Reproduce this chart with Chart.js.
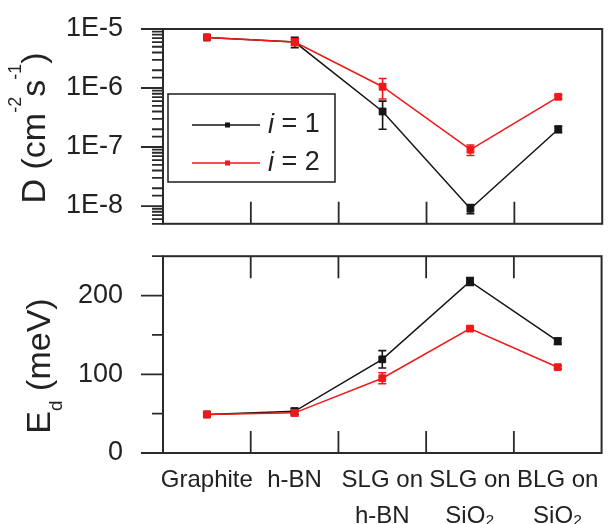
<!DOCTYPE html>
<html>
<head>
<meta charset="utf-8">
<script src="https://cdn.jsdelivr.net/npm/chart.js@4.4.1/dist/chart.umd.min.js"></script>
<style>
  html, body { margin: 0; padding: 0; background: #fff; overflow: hidden; }
  #wrap { position: relative; width: 608px; height: 524px; }
  canvas { position: absolute; left: 0; }
  .ttl { position: absolute; white-space: nowrap; color: #222; line-height: 1;
         font: 34px "Liberation Sans", Arial, sans-serif;
         transform: translate(-50%, -50%) rotate(-90deg); }
  .ttl .sup { font-size: 18px; position: relative; top: -24px; }
  .ttl .sub { font-size: 19px; position: relative; top: 12px; }
</style>
</head>
<body>
<div id="wrap">
  <canvas id="cD" width="608" height="240" style="top:0"></canvas>
  <canvas id="cE" width="608" height="284" style="top:240px"></canvas>
  <div class="ttl" style="left:33px;top:128px">D (cm<span class="sup">-2</span>s<span class="sup">-1</span>)</div>
  <div class="ttl" style="left:38px;top:366px">E<span class="sub">d</span> (meV)</div>
</div>
<script>
// ---- data ----
var categories = ['Graphite', 'h-BN', ['SLG on', 'h-BN'], ['SLG on', 'SiO₂'], ['BLG on', 'SiO₂']];
var seriesLabels = ['i = 1', 'i = 2'];

// diffusion coefficient D (cm^2/s), log axis
var d1    = [7.2e-6, 6.0e-6, 4.0e-7, 9.0e-9, 2.0e-7];
var d1Err = [0,      1.2e-6, 2.0e-7, 1.6e-9, 0.25e-7];
var d2    = [7.2e-6, 6.0e-6, 1.05e-6, 9.0e-8, 7.1e-7];
var d2Err = [0,      0.8e-6, 0.4e-6,  1.8e-8, 0.6e-7];

// activation energy E_d (meV)
var e1    = [49, 53, 119, 218, 142];
var e1Err = [0,  4,  11,  5,   4];
var e2    = [49, 51, 95,  158, 109];
var e2Err = [0,  4,  7,   3,   2];

var dMin = 5e-9, dMax = 1e-5;
var eMin = 0, eMax = 250, eStep = 50, eMajorStep = 100;

var INK = '#2a2a2a', BLACK = '#151515', RED = '#f01818';
var FONT = '"Liberation Sans", Arial, sans-serif';

Chart.defaults.font.family = FONT;
Chart.defaults.color = '#222';
Chart.defaults.animation = false;

function isMajorLog(v) { var l = Math.log10(v); return Math.abs(l - Math.round(l)) < 1e-6; }

// frame box + outward y ticks + inward category ticks
var framePlugin = {
  id: 'frame',
  afterDraw: function (chart, args, o) {
    var ctx = chart.ctx, a = chart.chartArea, y = chart.scales.y, x = chart.scales.x;
    ctx.save();
    ctx.strokeStyle = INK;
    ctx.lineWidth = 2;
    ctx.strokeRect(a.left, a.top, a.right - a.left, a.bottom - a.top);
    ctx.lineWidth = 1.8;
    ctx.beginPath();
    y.ticks.forEach(function (t) {
      var py = y.getPixelForValue(t.value);
      var len = o.major(t.value) ? 22 : 11;
      ctx.moveTo(a.left - len, py); ctx.lineTo(a.left, py);
    });
    var n = chart.data.labels.length;
    for (var i = 0; i < n - 1; i++) {
      var px = (x.getPixelForValue(i) + x.getPixelForValue(i + 1)) / 2;
      if (o.bottom) { ctx.moveTo(px, a.bottom); ctx.lineTo(px, a.bottom - 22); }
      if (o.top) { ctx.moveTo(px, a.top); ctx.lineTo(px, a.top + 22); }
    }
    ctx.stroke();
    ctx.restore();
  }
};

// symmetric error bars, drawn right after their own dataset
var errPlugin = {
  id: 'errbars',
  afterDatasetDraw: function (chart, args) {
    var ds = chart.data.datasets[args.index];
    if (!ds.errors) return;
    var y = chart.scales.y, ctx = chart.ctx;
    ctx.save();
    ctx.strokeStyle = ds.borderColor;
    ctx.lineWidth = 1.6;
    ctx.beginPath();
    args.meta.data.forEach(function (pt, i) {
      var e = ds.errors[i];
      if (!e) return;
      var hi = y.getPixelForValue(ds.data[i] + e), lo = y.getPixelForValue(ds.data[i] - e);
      ctx.moveTo(pt.x, hi); ctx.lineTo(pt.x, lo);
      ctx.moveTo(pt.x - 4, hi); ctx.lineTo(pt.x + 4, hi);
      ctx.moveTo(pt.x - 4, lo); ctx.lineTo(pt.x + 4, lo);
    });
    ctx.stroke();
    ctx.restore();
  }
};

// boxed legend inside the top panel, italic "i"
var legendPlugin = {
  id: 'boxLegend',
  afterDraw: function (chart) {
    var ctx = chart.ctx, a = chart.chartArea;
    var bx = a.left + 5, by = a.top + 65, bw = 167, bh = 88;
    ctx.save();
    ctx.fillStyle = '#fff';
    ctx.fillRect(bx, by, bw, bh);
    ctx.strokeStyle = INK; ctx.lineWidth = 1.6;
    ctx.strokeRect(bx, by, bw, bh);
    chart.data.datasets.forEach(function (ds, k) {
      var ry = by + 31 + k * 38;
      ctx.strokeStyle = ds.borderColor; ctx.lineWidth = 1.5;
      ctx.beginPath(); ctx.moveTo(bx + 24, ry); ctx.lineTo(bx + 92, ry); ctx.stroke();
      ctx.fillStyle = ds.borderColor;
      ctx.fillRect(bx + 57, ry - 2.5, 5, 5);
      ctx.fillStyle = '#222';
      ctx.textBaseline = 'middle';
      ctx.font = 'italic 27px ' + FONT;
      var head = ds.label.charAt(0), rest = ds.label.slice(1);
      ctx.fillText(head, bx + 100, ry);
      var w = ctx.measureText(head).width;
      ctx.font = '27px ' + FONT;
      ctx.fillText(rest, bx + 100 + w, ry);
    });
    ctx.restore();
  }
};

function series(label, data, errs, color, order) {
  return {
    label: label, data: data, errors: errs,
    borderColor: color, backgroundColor: color,
    borderWidth: 1.5, pointStyle: 'rect', pointRadius: 4.8,
    pointBackgroundColor: color, pointBorderColor: color, pointBorderWidth: 1,
    order: order
  };
}

// tick marks are drawn by framePlugin; the hidden tickLength only spaces the labels
function yAxis(extra) {
  var ax = {
    position: 'left',
    grid: { display: false, drawTicks: true, tickLength: 40 },
    border: { display: false },
    afterFit: function (s) { s.width = 163; }
  };
  for (var k in extra) ax[k] = extra[k];
  return ax;
}

new Chart(document.getElementById('cD'), {
  type: 'line',
  data: {
    labels: categories,
    datasets: [
      series(seriesLabels[0], d1, d1Err, BLACK, 2),
      series(seriesLabels[1], d2, d2Err, RED, 1)
    ]
  },
  options: {
    responsive: false,
    layout: { padding: { top: 29, right: 1, bottom: 15, left: 0 } },
    plugins: {
      legend: { display: false }, tooltip: { enabled: false },
      frame: { major: isMajorLog, bottom: true, top: false }
    },
    scales: {
      x: { type: 'category', offset: true, display: false },
      y: yAxis({
        type: 'logarithmic', min: dMin, max: dMax,
        ticks: {
          autoSkip: false, padding: 0, font: { size: 27 },
          callback: function (v) { return isMajorLog(v) ? '1E' + Math.round(Math.log10(v)) : ''; }
        }
      })
    }
  },
  plugins: [errPlugin, framePlugin, legendPlugin]
});

new Chart(document.getElementById('cE'), {
  type: 'line',
  data: {
    labels: categories,
    datasets: [
      series(seriesLabels[0], e1, e1Err, BLACK, 2),
      series(seriesLabels[1], e2, e2Err, RED, 1)
    ]
  },
  options: {
    responsive: false,
    layout: { padding: { top: 16, right: 1, bottom: 0, left: 0 } },
    plugins: {
      legend: { display: false }, tooltip: { enabled: false },
      frame: { major: function (v) { return v % eMajorStep === 0; }, bottom: true, top: true }
    },
    scales: {
      x: {
        type: 'category', offset: true,
        grid: { display: false, drawTicks: false },
        border: { display: false },
        ticks: { padding: 9, maxRotation: 0, autoSkip: false, font: { size: 24, lineHeight: 1.5 } },
        afterFit: function (s) { s.height = 71; }
      },
      y: yAxis({
        type: 'linear', min: eMin, max: eMax,
        ticks: {
          stepSize: eStep, autoSkip: false, padding: 0, font: { size: 27 },
          callback: function (v) { return v % eMajorStep === 0 ? String(v) : ''; }
        }
      })
    }
  },
  plugins: [errPlugin, framePlugin]
});
</script>
</body>
</html>
